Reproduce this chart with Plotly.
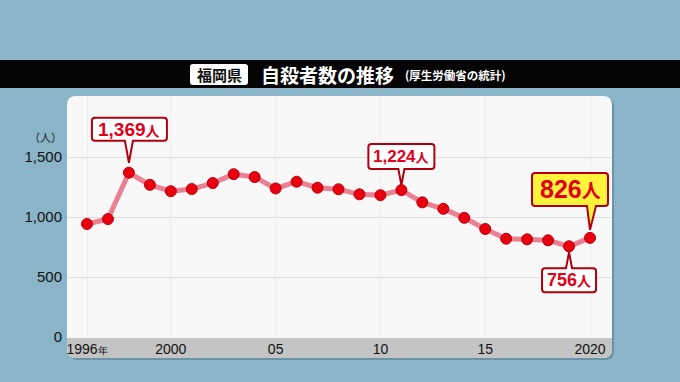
import plotly.graph_objects as go

# ---------------- data ----------------
years = list(range(1996, 2021))
deaths = [942, 983, 1369, 1268, 1215, 1233, 1283, 1357, 1333, 1238, 1294, 1244,
          1231, 1189, 1182, 1224, 1122, 1068, 993, 900, 819, 814, 806, 756, 826]
x_tick_years = [1996, 2000, 2005, 2010, 2015, 2020]
x_tick_labels = ["1996<span style='font-size:10px'>年</span>", "2000", "05", "10", "15", "2020"]
y_ticks = [0, 500, 1000, 1500]
y_tick_labels = ["0", "500", "1,000", "1,500"]
callout_years = [1998, 2011, 2019, 2020]
callout_texts = ["1,369", "1,224", "756", "826"]
title_pref = "福岡県"
title_main = "自殺者数の推移"
title_sub = "(厚生労働省の統計)"
unit_label = "（人）"

# ---------------- layout geometry (pixels) ----------------
W, H = 680, 382
L, R, T, B = 67, 612, 96, 337
PX_PER_UNIT = 0.12
PX_PER_YEAR = (590 - 87) / 24.0
BG = "#8AB5C9"


def px(x):
    return (x - L) / (R - L)


def py(y):
    return (B - y) / (B - T)


def rrect(x0, y0, x1, y1, r, top=True, bottom=True):
    rt = r if top else 0
    rb = r if bottom else 0
    s = f"M {px(x0 + rt)},{py(y0)} L {px(x1 - rt)},{py(y0)} "
    s += f"Q {px(x1)},{py(y0)} {px(x1)},{py(y0 + rt)} "
    s += f"L {px(x1)},{py(y1 - rb)} Q {px(x1)},{py(y1)} {px(x1 - rb)},{py(y1)} "
    s += f"L {px(x0 + rb)},{py(y1)} Q {px(x0)},{py(y1)} {px(x0)},{py(y1 - rb)} "
    s += f"L {px(x0)},{py(y0 + rt)} Q {px(x0)},{py(y0)} {px(x0 + rt)},{py(y0)} Z"
    return s


RED_TXT = "#E0001A"
RED_BORDER = "#B0000F"
NUM_FONT = "Liberation Sans, Arial, Noto Sans CJK JP"
JP_FONT = "Noto Sans CJK JP, Noto Sans CJK SC, sans-serif"
TICK_FONT = "Liberation Sans, Arial, sans-serif"

fig = go.Figure()
fig.add_trace(go.Scatter(
    x=years, y=deaths, mode="lines+markers",
    line=dict(color="rgba(232,108,128,0.85)", width=5),
    marker=dict(color="#E8000E", size=11, line=dict(color="#B8000C", width=1)),
    cliponaxis=False, hoverinfo="skip", showlegend=False,
))

shapes = []
shapes.append(dict(type="path", xref="paper", yref="paper", layer="below",
                   path=rrect(L + 2, T + 2, R + 2, 358 + 2, 9),
                   fillcolor="rgba(50,80,100,0.35)", line=dict(width=0)))
shapes.append(dict(type="path", xref="paper", yref="paper", layer="below",
                   path=rrect(L, T, R, 358, 9),
                   fillcolor="#F8F8F8", line=dict(width=0)))
shapes.append(dict(type="path", xref="paper", yref="paper", layer="below",
                   path=rrect(L, B + 1, R, 358, 9, top=False),
                   fillcolor="#C4C4C4", line=dict(width=0)))
shapes.append(dict(type="rect", xref="paper", yref="paper", layer="below",
                   x0=px(0), x1=px(W), y0=py(88), y1=py(60),
                   fillcolor="#050505", line=dict(width=0)))
shapes.append(dict(type="path", xref="paper", yref="paper", layer="below",
                   path=rrect(190, 64, 248, 85, 3),
                   fillcolor="#FFFFFF", line=dict(width=0)))

# callout geometry (pixel offsets relative to the data point, y up)
callout_geom = [
    (-37, 38, 55, 32, -4, 4, 0, 10),
    (-33, 33, 46, 21, -3, 3, 0, 5),
    (-27, 27, -22, -46, -3, 3, 0, -6),
    (-58, 18, 65, 32, -3, 6, 0, 8),
]
callout_fill = ["#FFFFFF", "#FFFFFF", "#FFFFFF", "#FFF33C"]
callout_font = [(19, 14), (17, 13), (18, 14), (25, 19)]

annotations = []
for yr, txt, g, fill, (fs, fs2) in zip(callout_years, callout_texts, callout_geom,
                                        callout_fill, callout_font):
    val = deaths[years.index(yr)]
    bl, br, bt, bb, pl, pr, tx, ty = g
    r = 3
    if bt > 0:
        path = (f"M {bl + r},{bt} L {br - r},{bt} Q {br},{bt} {br},{bt - r} "
                f"L {br},{bb + r} Q {br},{bb} {br - r},{bb} "
                f"L {pr},{bb} L {tx},{ty} L {pl},{bb} "
                f"L {bl + r},{bb} Q {bl},{bb} {bl},{bb + r} "
                f"L {bl},{bt - r} Q {bl},{bt} {bl + r},{bt} Z")
    else:
        path = (f"M {bl + r},{bt} L {pl},{bt} L {tx},{ty} L {pr},{bt} "
                f"L {br - r},{bt} Q {br},{bt} {br},{bt - r} "
                f"L {br},{bb + r} Q {br},{bb} {br - r},{bb} "
                f"L {bl + r},{bb} Q {bl},{bb} {bl},{bb + r} "
                f"L {bl},{bt - r} Q {bl},{bt} {bl + r},{bt} Z")
    shapes.append(dict(type="path", xref="x", yref="y", xsizemode="pixel",
                       ysizemode="pixel", xanchor=yr, yanchor=val, path=path,
                       fillcolor=fill, line=dict(color=RED_BORDER, width=2),
                       layer="above"))
    annotations.append(dict(
        x=yr, y=val, xref="x", yref="y", showarrow=False,
        xshift=(bl + br) / 2.0, yshift=(bt + bb) / 2.0,
        text=f"<b>{txt}<span style='font-size:{fs2}px'>人</span></b>",
        font=dict(family=NUM_FONT, size=fs, color=RED_TXT),
        xanchor="center", yanchor="middle"))

annotations.append(dict(x=px(219), y=py(74.5), xref="paper", yref="paper",
                        showarrow=False, text=f"<b>{title_pref}</b>",
                        font=dict(family=JP_FONT, size=15, color="#111111"),
                        xanchor="center", yanchor="middle"))
annotations.append(dict(x=px(259), y=py(74), xref="paper", yref="paper",
                        showarrow=False, text=f"<b>{title_main}</b>",
                        font=dict(family=JP_FONT, size=19, color="#FFFFFF"),
                        xanchor="left", yanchor="middle"))
annotations.append(dict(x=px(403), y=py(75), xref="paper", yref="paper",
                        showarrow=False, text=f"<b>{title_sub}</b>",
                        font=dict(family=JP_FONT, size=11.5, color="#FFFFFF"),
                        xanchor="left", yanchor="middle"))
annotations.append(dict(x=px(64), y=py(137), xref="paper", yref="paper",
                        showarrow=False, text=unit_label,
                        font=dict(family=JP_FONT, size=11, color="#1a1a1a"),
                        xanchor="right", yanchor="middle"))

x0 = 1996 - (87 - L) / PX_PER_YEAR
x1 = 2020 + (R - 590) / PX_PER_YEAR
fig.update_layout(
    width=W, height=H,
    margin=dict(l=L, r=W - R, t=T, b=H - B, pad=0),
    paper_bgcolor=BG,
    plot_bgcolor="rgba(0,0,0,0)",
    shapes=shapes, annotations=annotations,
    xaxis=dict(range=[x0, x1], tickvals=x_tick_years, ticktext=x_tick_labels,
               showgrid=True, gridcolor="#EDEDED", gridwidth=1, zeroline=False,
               showline=False, ticks="", ticklabelstandoff=2,
               tickfont=dict(family=TICK_FONT, size=14, color="#111111")),
    yaxis=dict(range=[0, (B - T) / PX_PER_UNIT], tickvals=y_ticks,
               ticktext=y_tick_labels, showgrid=True, gridcolor="#DEDEDE",
               gridwidth=1, zeroline=False, showline=False, ticks="",
               ticklabelstandoff=4,
               tickfont=dict(family=TICK_FONT, size=15, color="#111111")),
)

fig.write_html(
    "out.html",
    config={"displayModeBar": False},
    post_script=("document.body.style.margin='0';"
                 f"document.body.style.background='{BG}';"),
)
